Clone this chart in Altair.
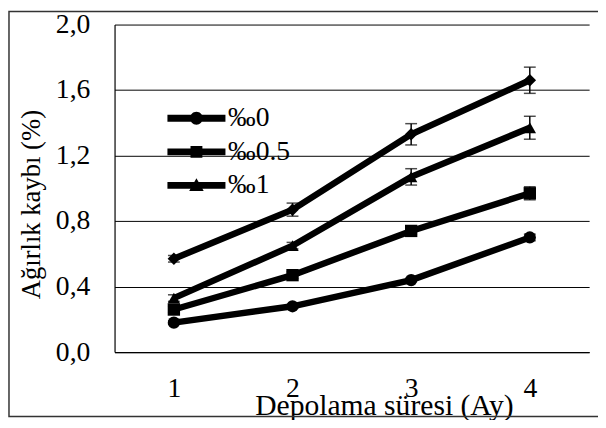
import altair as alt
import pandas as pd

# ---- data ----
months = [1, 2, 3, 4]
series_names = ["‰0", "‰0.5", "‰1", "‰1.5"]
legend_names = ["‰0", "‰0.5", "‰1"]
vals_0 = [0.18, 0.28, 0.44, 0.70]
vals_05 = [0.26, 0.47, 0.74, 0.97]
vals_1 = [0.33, 0.65, 1.07, 1.37]
vals_15 = [0.57, 0.87, 1.33, 1.66]
err_0 = [0.01, 0.01, 0.01, 0.02]
err_05 = [0.02, 0.02, 0.02, 0.04]
err_1 = [0.02, 0.02, 0.05, 0.07]
err_15 = [0.02, 0.04, 0.065, 0.08]
y_ticks = [0.0, 0.4, 0.8, 1.2, 1.6, 2.0]

series_vals = [vals_0, vals_05, vals_1, vals_15]
series_errs = [err_0, err_05, err_1, err_15]

rows = []
for name, vs, es in zip(series_names, series_vals, series_errs):
    for m, v, e in zip(months, vs, es):
        rows.append({"month": m, "series": name, "value": v, "lo": v - e, "hi": v + e})
df = pd.DataFrame(rows)

FONT = "Liberation Serif"
FS = 28
W, H = 481, 332
X_TITLE = "Depolama süresi (Ay)"
Y_TITLE = "Ağırlık kaybı (%)"

x_enc = alt.X(
    "month:O",
    title=X_TITLE,
    scale=alt.Scale(type="point", padding=0.5),
    axis=alt.Axis(
        labelAngle=0, ticks=False, tickSize=0,
        labelPadding=23, labelFont=FONT, labelFontSize=FS, labelColor="black",
        domain=True, domainColor="black", domainWidth=1.2, grid=False,
        titleFont=FONT, titleFontSize=30, titleFontWeight="normal", titleColor="black",
        titleX=273, titleY=54, titleAnchor="middle", titleAlign="center", titleBaseline="middle",
    ),
)
y_enc = alt.Y(
    "value:Q",
    title=Y_TITLE,
    scale=alt.Scale(domain=[0, 2.0], nice=False, zero=True),
    axis=alt.Axis(
        values=y_ticks, labelExpr="replace(format(datum.value, '.1f'), '.', ',')",
        grid=True, gridColor="black", gridWidth=1, ticks=False, tickSize=0,
        domain=True, domainColor="black", domainWidth=1.2,
        labelPadding=25, labelFont=FONT, labelFontSize=FS, labelColor="black",
        titleFont=FONT, titleFontSize=27,
        titleFontWeight="normal", titleColor="black", titleAngle=270,
        titleX=-84, titleY=182, titleAlign="center", titleBaseline="middle",
    ),
)

base = alt.Chart(df)

lines = base.mark_line(color="black", strokeWidth=6.5).encode(
    x=x_enc, y=y_enc, detail="series:N"
)

errbars = base.mark_errorbar(
    ticks={"size": 12, "thickness": 1.5, "color": "black"},
    rule={"strokeWidth": 1.5, "color": "black"},
).encode(
    x=alt.X("month:O", title=X_TITLE),
    y=alt.Y("lo:Q", title=Y_TITLE),
    y2="hi:Q",
)

points = base.mark_point(filled=True, color="black", opacity=1).encode(
    x=alt.X("month:O", title=X_TITLE),
    y=alt.Y("value:Q", title=Y_TITLE),
    shape=alt.Shape("series:N", scale=alt.Scale(domain=series_names,
                    range=["circle", "square", "triangle-up", "diamond"]), legend=None),
    size=alt.Size("series:N", scale=alt.Scale(domain=series_names,
                  range=[155, 160, 190, 230]), legend=None),
)

# legend-only layer: symbols are a thick line with the marker on it
line_part = "M-4.2,-0.5L4.2,-0.5L4.2,0.5L-4.2,0.5Z"
circle_p = line_part + "M-0.93,0A0.93,0.93,0,1,1,0.93,0A0.93,0.93,0,1,1,-0.93,0Z"
square_p = line_part + "M-0.86,-0.86L0.86,-0.86L0.86,0.86L-0.86,0.86Z"
tri_p = line_part + "M0,-1.05L1.05,0.8L-1.05,0.8Z"

legend_layer = base.transform_filter("datum.value < -10").mark_point(
    filled=True, color="black", opacity=1, size=196
).encode(
    shape=alt.Shape(
        "series:N",
        scale=alt.Scale(domain=legend_names, range=[circle_p, square_p, tri_p]),
        legend=alt.Legend(
            title=None, orient="none", legendX=69, legendY=81, padding=0,
            labelFont=FONT, labelFontSize=FS, labelColor="black", labelOffset=18,
            rowPadding=6, symbolSize=196, symbolStrokeWidth=0,
            symbolFillColor="black", symbolOpacity=1,
        ),
    )
)

frame = alt.Chart(alt.Data(values=[{"a": 1}])).mark_rect(
    filled=False, stroke="#333333", strokeWidth=1.5
).encode(
    x=alt.value(-107), x2=alt.value(500), y=alt.value(-13.25), y2=alt.value(397.25)
)

chart = alt.layer(frame, lines, errbars, points, legend_layer).resolve_scale(
    shape="independent"
).properties(
    width=W, height=H,
    autosize=alt.AutoSizeParams(type="none"),
    padding={"left": 108, "top": 14, "right": 9, "bottom": 66},
    background="white",
).configure(
    font=FONT
).configure_axis(
    labelFont=FONT, titleFont=FONT
).configure_legend(
    labelFont=FONT
).configure_view(stroke=None)

chart.save("out.html", embed_options={"renderer": "svg", "actions": False})
